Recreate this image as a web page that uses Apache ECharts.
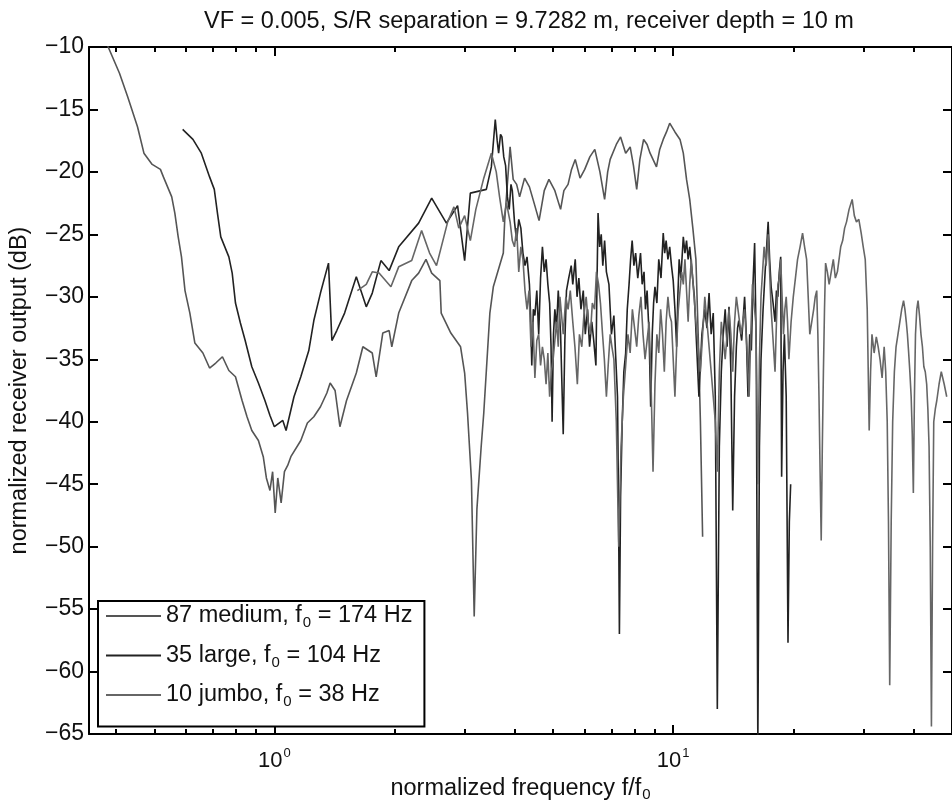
<!DOCTYPE html>
<html><head><meta charset="utf-8">
<script src="https://cdn.jsdelivr.net/npm/echarts@6/dist/echarts.min.js"></script>
<style>html,body{margin:0;padding:0;background:#fff}#c{width:952px;height:808px}</style>
</head><body><div id="c"></div><script>
const titleText = 'VF = 0.005, S/R separation = 9.7282 m, receiver depth = 10 m';
const xName = 'normalized frequency f/f';
const yName = 'normalized receiver output (dB)';
const xMajorTicks = [1, 10];
const xMinorTicks = [0.4,0.5,0.6,0.7,0.8,0.9,2,3,4,5,6,7,8,9,20,30,40];
const seriesNames = ['87 medium', '35 large', '10 jumbo'];
const f0Labels = ['174 Hz', '104 Hz', '38 Hz'];

const medium = [
[0.35,-8.0],[0.382,-9.9],[0.409,-12.1],[0.429,-14.0],[0.454,-16.4],[0.471,-18.5],[0.494,-19.4],[0.518,-19.8],[0.527,-20.4],[0.553,-22.0],[0.563,-23.3],[0.574,-25.2],[0.585,-26.8],[0.597,-29.5],[0.614,-31.3],[0.632,-33.7],[0.662,-34.5],[0.688,-35.7],[0.713,-35.3],[0.741,-34.8],[0.769,-35.9],[0.799,-36.4],[0.830,-38.3],[0.854,-39.6],[0.878,-40.7],[0.912,-41.5],[0.938,-42.8],[0.955,-44.5],[0.975,-45.5],[0.99,-44.0],[1.005,-47.3],[1.02,-44.5],[1.04,-46.5],[1.06,-44.0],[1.08,-43.5],[1.10,-42.8],[1.165,-41.5],[1.21,-40.1],[1.256,-39.6],[1.305,-38.8],[1.354,-37.7],[1.38,-36.9],[1.42,-37.5],[1.46,-40.4],[1.517,-38.3],[1.605,-36.1],[1.667,-34.0],[1.76,-34.5],[1.80,-36.4],[1.87,-32.9],[1.94,-32.7],[1.97,-34.0],[2.05,-31.3],[2.21,-28.7],[2.30,-28.1],[2.40,-27.0],[2.48,-28.1],[2.60,-28.7],[2.62,-31.3],[2.77,-32.9],[2.93,-34.0],[3.00,-36.1],[3.05,-39.3],[3.12,-44.7],[3.17,-55.6],[3.22,-47.0],[3.30,-42.0],[3.35,-39.3],[3.47,-31.3],[3.54,-29.2],[3.75,-26.5],[3.78,-23.9],[3.90,-18.0],[3.97,-20.6],[4.05,-21.0],[4.12,-22.0],[4.24,-20.5],[4.36,-21.2],[4.48,-22.5],[4.61,-23.9],[4.75,-21.5],[4.88,-20.6],[5.05,-21.5],[5.22,-23.0],[5.32,-21.5],[5.45,-21.0],[5.56,-19.8],[5.68,-19.0],[5.84,-20.5],[6.0,-19.8],[6.18,-18.8],[6.36,-18.2],[6.55,-20.0],[6.73,-22.2],[6.85,-20.0],[6.95,-19.0],[7.2,-17.8],[7.38,-17.2],[7.6,-18.5],[7.8,-18.0],[7.95,-19.5],[8.1,-21.4],[8.25,-19.0],[8.43,-17.4],[8.6,-17.8],[8.75,-18.5],[9.08,-19.6],[9.25,-18.2],[9.44,-17.4],[9.62,-16.8],[9.8,-16.1],[10.1,-16.8],[10.4,-17.4],[10.6,-18.5],[10.8,-20.6],[11.0,-22.2],[11.2,-24.5],[11.4,-27.0],[11.55,-33.0],[11.7,-40.0],[11.85,-49.2]
];
const large = [
[0.589,-16.6],[0.625,-17.4],[0.656,-18.5],[0.688,-20.4],[0.707,-21.4],[0.720,-23.3],[0.734,-25.2],[0.769,-26.8],[0.784,-28.1],[0.799,-30.5],[0.822,-32.1],[0.845,-33.5],[0.878,-35.6],[0.912,-36.9],[0.947,-38.3],[0.975,-39.5],[1.0,-40.4],[1.05,-39.9],[1.07,-40.7],[1.12,-38.0],[1.165,-36.4],[1.22,-34.3],[1.256,-31.9],[1.305,-29.7],[1.367,-27.3],[1.394,-33.5],[1.434,-32.7],[1.50,-31.3],[1.605,-28.4],[1.70,-30.8],[1.76,-29.7],[1.85,-27.1],[1.94,-27.9],[2.05,-26.0],[2.30,-24.1],[2.48,-22.1],[2.70,-24.1],[2.88,-22.7],[3.0,-27.1],[3.1,-21.7],[3.4,-21.4],[3.5,-19.6],
[3.58,-15.8],[3.62,-17.5],[3.65,-18.5],[3.69,-17.0],[3.72,-17.2],[3.76,-18.8],[3.8,-19.5],[3.84,-22.0],[3.88,-23.0],[3.92,-21.0],[3.95,-21.5],[4.0,-24.0],[4.05,-25.5],[4.1,-23.8],[4.15,-24.5],[4.2,-26.5],[4.25,-27.5],[4.3,-26.8],[4.36,-29.0],[4.39,-31.5],[4.42,-35.5],[4.46,-31.0],[4.5,-31.5],[4.55,-29.5],[4.6,-33.0],[4.65,-28.5],[4.7,-26.0],[4.75,-28.0],[4.8,-27.0],[4.85,-29.0],[4.9,-30.5],[4.94,-34.0],[4.97,-40.0],[5.01,-33.0],[5.05,-31.0],[5.1,-32.5],[5.15,-29.5],[5.22,-33.0],[5.3,-41.0],[5.35,-33.5],[5.4,-29.5],[5.47,-28.5],[5.55,-27.5],[5.6,-29.0],[5.68,-27.0],[5.74,-30.0],[5.8,-28.5],[5.87,-31.0],[5.95,-29.5],[6.02,-33.0],[6.1,-31.0],[6.17,-34.0],[6.25,-32.0],[6.32,-33.5],[6.4,-35.5],[6.44,-29.0],[6.48,-23.3],[6.54,-26.0],[6.6,-25.0],[6.66,-27.5],[6.73,-25.5],[6.8,-28.0],[6.9,-29.0],[7.0,-33.0],[7.1,-31.5],[7.18,-35.0],[7.25,-38.0],[7.29,-46.0],[7.33,-57.0],[7.38,-46.0],[7.45,-40.0],[7.52,-36.0],[7.6,-34.5],[7.67,-31.0],[7.75,-29.0],[7.82,-27.0],[7.89,-25.5],[7.97,-27.5],[8.05,-26.5],[8.15,-28.5],[8.28,-26.5],[8.36,-29.0],[8.45,-28.0],[8.52,-31.0],[8.6,-29.5],[8.7,-33.0],[8.78,-38.8],[8.86,-33.0],[8.93,-30.5],[9.0,-29.2],[9.1,-30.5],[9.2,-27.0],[9.32,-28.5],[9.44,-24.9],[9.52,-26.5],[9.6,-25.5],[9.7,-27.0],[9.8,-26.0],[9.9,-27.5],[10.0,-28.7],[10.1,-31.0],[10.2,-34.0],[10.27,-30.0],[10.35,-27.0],[10.45,-28.5],[10.6,-25.2],[10.7,-26.5],[10.8,-25.5],[10.9,-27.0],[11.0,-26.0],[11.15,-28.0],[11.3,-30.0],[11.45,-34.0],[11.6,-38.0],[11.8,-33.0],[12.0,-31.0],[12.15,-32.5],[12.3,-29.7],[12.45,-33.0],[12.6,-31.3],[12.75,-38.0],[12.9,-63.0],[13.05,-42.0],[13.2,-36.0],[13.35,-33.0],[13.5,-31.0],[13.65,-34.0],[13.8,-30.8],[13.95,-36.0],[14.1,-47.1],[14.25,-38.0],[14.4,-34.0],[14.5,-32.5],[14.6,-31.9],[14.85,-33.5],[15.1,-30.0],[15.25,-33.0],[15.4,-38.0],[15.55,-33.0],[15.7,-34.3],[15.85,-29.0],[16.0,-25.7],[16.15,-34.0],[16.3,-66.0],[16.45,-42.0],[16.6,-35.0],[16.8,-31.0],[17.0,-28.0],[17.15,-26.0],[17.3,-24.0],[17.45,-27.0],[17.6,-29.2],[17.8,-30.5],[18.0,-32.0],[18.15,-29.5],[18.3,-30.0],[18.45,-28.0],[18.6,-26.8],[18.7,-44.4],[18.85,-36.0],[19.0,-33.0],[19.2,-38.0],[19.4,-57.7],[19.55,-48.0],[19.7,-45.0]
];
const jumbo = [
[1.615,-29.5],[1.70,-29.0],[1.76,-28.0],[1.83,-28.1],[1.96,-29.2],[2.05,-27.6],[2.21,-27.1],[2.34,-24.7],[2.45,-26.5],[2.55,-27.5],[2.72,-24.0],[2.82,-22.8],[2.90,-24.5],[3.00,-23.5],[3.10,-25.5],[3.20,-23.0],[3.35,-20.5],[3.50,-18.5],
[3.6,-20.0],[3.67,-22.0],[3.75,-24.0],[3.82,-22.5],[3.9,-24.0],[3.95,-25.5],[4.0,-26.0],[4.05,-24.5],[4.1,-28.0],[4.15,-26.0],[4.2,-27.0],[4.25,-29.5],[4.3,-31.0],[4.35,-29.5],[4.4,-34.0],[4.45,-32.0],[4.5,-36.5],[4.55,-33.5],[4.6,-33.0],[4.65,-35.5],[4.7,-34.0],[4.75,-35.0],[4.8,-37.0],[4.85,-34.5],[4.9,-38.0],[4.95,-36.0],[5.0,-35.0],[5.05,-33.5],[5.1,-32.0],[5.15,-34.0],[5.2,-30.0],[5.25,-31.5],[5.3,-33.0],[5.38,-30.0],[5.45,-31.0],[5.52,-29.5],[5.6,-32.0],[5.67,-34.0],[5.75,-37.0],[5.82,-33.0],[5.9,-34.0],[5.97,-31.5],[6.05,-30.0],[6.12,-32.0],[6.2,-33.0],[6.27,-30.5],[6.35,-31.0],[6.42,-28.0],[6.5,-29.0],[6.57,-30.5],[6.65,-33.0],[6.72,-35.0],[6.8,-38.0],[6.87,-35.5],[6.95,-33.0],[7.02,-34.0],[7.1,-35.0],[7.2,-40.0],[7.3,-50.0],[7.4,-42.0],[7.5,-38.0],[7.6,-35.5],[7.7,-33.0],[7.8,-34.5],[7.9,-31.0],[8.0,-32.5],[8.1,-34.0],[8.2,-31.5],[8.3,-30.0],[8.4,-33.0],[8.5,-35.0],[8.6,-33.5],[8.7,-32.0],[8.8,-37.0],[8.9,-44.0],[9.0,-37.0],[9.1,-33.0],[9.2,-34.5],[9.3,-31.0],[9.4,-33.0],[9.5,-36.0],[9.6,-32.0],[9.7,-30.0],[9.8,-31.5],[9.9,-32.0],[10.0,-35.0],[10.1,-38.0],[10.2,-34.0],[10.3,-31.0],[10.4,-29.5],[10.5,-28.0],[10.6,-29.0],[10.7,-27.0],[10.8,-29.5],[10.9,-32.0],[11.0,-29.0],[11.1,-27.0],[11.25,-29.5],[11.4,-32.0],[11.55,-34.0],[11.7,-36.0],[11.85,-33.0],[12.0,-30.0],[12.15,-32.0],[12.3,-34.0],[12.45,-36.0],[12.6,-38.0],[12.75,-40.0],[12.9,-44.0],[13.05,-36.0],[13.2,-32.0],[13.35,-33.5],[13.5,-35.0],[13.65,-33.0],[13.8,-31.0],[13.95,-33.0],[14.1,-36.0],[14.25,-32.0],[14.4,-30.0],[14.6,-31.5],[14.8,-33.0],[14.95,-32.0],[15.1,-31.0],[15.3,-34.0],[15.5,-38.0],[15.65,-33.0],[15.8,-29.0],[15.95,-30.5],[16.1,-32.0],[16.2,-37.0],[16.3,-45.0],[16.45,-35.0],[16.6,-30.0],[16.75,-28.0],[16.9,-26.0],[17.1,-27.5],[17.3,-25.0],[17.45,-28.0],[17.6,-31.0],[17.8,-33.5],[18.0,-36.0],[18.15,-32.0],[18.3,-29.0],[18.45,-28.5],[18.6,-27.0],[18.75,-30.0],[18.9,-33.0],[19.05,-31.0],[19.2,-30.0],[19.35,-32.0],[19.5,-35.0],[19.75,-32.0],[20.0,-30.0],[20.25,-28.5],[20.5,-27.0],[20.8,-26.0],[21.1,-24.9],[21.35,-26.0],[21.6,-27.0],[21.8,-30.0],[22.0,-33.0],[22.25,-32.0],[22.5,-31.0],[22.7,-30.0],[22.9,-29.5],[23.05,-33.0],[23.2,-38.0],[23.35,-44.0],[23.5,-49.5],[23.65,-42.0],[23.8,-36.0],[23.95,-31.0],[24.1,-27.3],[24.35,-28.0],[24.6,-29.0],[24.9,-28.0],[25.2,-27.0],[25.5,-28.5],[25.8,-28.0],[26.05,-27.0],[26.3,-26.0],[26.6,-25.5],[26.9,-24.5],[27.2,-24.0],[27.6,-23.0],[28.1,-22.2],[28.45,-23.5],[28.8,-24.0],[29.2,-23.8],[29.6,-24.9],[29.95,-26.0],[30.3,-27.0],[30.65,-31.0],[31.0,-40.7],[31.25,-36.0],[31.5,-33.0],[31.9,-34.5],[32.3,-33.2],[32.65,-34.0],[33.0,-35.0],[33.4,-36.5],[33.8,-34.0],[34.1,-36.0],[34.4,-40.0],[34.65,-48.0],[34.9,-61.1],[35.2,-48.0],[35.5,-40.0],[35.85,-36.0],[36.2,-34.0],[36.6,-33.0],[37.0,-32.0],[37.4,-31.0],[37.8,-30.3],[38.1,-31.0],[38.4,-32.0],[38.65,-33.0],[38.9,-34.3],[39.2,-36.0],[39.5,-38.0],[39.75,-41.0],[40.0,-45.7],[40.25,-38.0],[40.5,-33.0],[40.8,-31.0],[41.1,-30.3],[41.45,-31.5],[41.8,-33.0],[42.15,-34.0],[42.5,-35.6],[42.85,-36.0],[43.2,-37.0],[43.5,-39.0],[43.8,-42.0],[44.1,-50.0],[44.4,-64.4],[44.7,-50.0],[45.0,-40.0],[45.4,-39.0],[45.8,-38.3],[46.4,-37.0],[47.0,-36.0],[47.8,-37.0],[48.5,-38.0]
];

const FONT = '"Liberation Sans", Arial, Helvetica, sans-serif';
const INK = '#111';
const FS = 23.5;
const xMin = 0.343, xMax = 50;
const lineColors = ['#555', '#222', '#666'];

function logAxis(pos, ticks, len, showLine, labels) {
  return {
    type: 'log', logBase: 10, min: xMin, max: xMax, position: pos,
    axisLine: {show: showLine, onZero: false, lineStyle: {color: '#000', width: 2}},
    axisTick: {show: true, inside: true, length: len, customValues: ticks, lineStyle: {color: '#000', width: 2}},
    axisLabel: labels ? {
      show: true, customValues: ticks, margin: 13, color: INK, fontFamily: FONT, fontSize: 22,
      formatter: v => '{b|10}{s|' + Math.round(Math.log10(v)) + '}',
      rich: {b: {fontSize: 22, fontFamily: FONT, color: INK}, s: {fontSize: 13, fontFamily: FONT, color: INK, padding: [0, 0, 14, 1]}}
    } : {show: false},
    splitLine: {show: false}, minorTick: {show: false}
  };
}

const chart = echarts.init(document.getElementById('c'), null, {renderer: 'canvas'});
const xAxes = [logAxis('bottom', xMajorTicks, 9, true, true), logAxis('bottom', xMinorTicks, 5, false, false),
               logAxis('top', xMajorTicks, 9, true, false), logAxis('top', xMinorTicks, 5, false, false)];
xAxes[0].name = '{t|' + xName + '}{s|0}';
xAxes[0].nameLocation = 'middle';
xAxes[0].nameGap = 36;
xAxes[0].nameTextStyle = {fontFamily: FONT, fontSize: FS, color: INK,
  rich: {t: {fontFamily: FONT, fontSize: FS, color: INK}, s: {fontFamily: FONT, fontSize: 15, color: INK, padding: [13, 0, 0, 1]}}};

chart.setOption({
  animation: false,
  backgroundColor: '#fff',
  title: {text: titleText, left: 524, top: 5, textAlign: 'center',
    textStyle: {fontFamily: FONT, fontSize: FS, fontWeight: 'normal', color: INK}},
  grid: {left: 87, top: 47, width: 874, height: 687, containLabel: false},
  xAxis: xAxes,
  yAxis: [
    {type: 'value', min: -65, max: -10, interval: 5, position: 'left',
     axisLine: {show: true, lineStyle: {color: '#000', width: 2}},
     axisTick: {show: true, inside: true, length: 9, lineStyle: {color: '#000', width: 2}},
     axisLabel: {color: INK, fontFamily: FONT, fontSize: 23, margin: 5, formatter: v => v < 0 ? '\u2212' + Math.abs(v) : String(v)},
     splitLine: {show: false},
     name: yName, nameLocation: 'middle', nameGap: 57,
     nameTextStyle: {fontFamily: FONT, fontSize: FS, color: INK}},
    {type: 'value', min: -65, max: -10, interval: 5, position: 'right',
     axisLine: {show: true, lineStyle: {color: '#000', width: 2}},
     axisTick: {show: true, inside: true, length: 9, lineStyle: {color: '#000', width: 2}},
     axisLabel: {show: false}, splitLine: {show: false}}
  ],
  legend: {
    data: seriesNames, orient: 'vertical', left: 98, top: 601,
    icon: 'rect', itemWidth: 55, itemHeight: 2, itemGap: 13,
    padding: [3, 12, 17, 8],
    borderColor: '#000', borderWidth: 2, backgroundColor: '#fff',
    textStyle: {fontFamily: FONT, fontSize: FS, color: INK,
      rich: {s: {fontFamily: FONT, fontSize: 15, color: INK, padding: [14, 0, 0, 1]}}},
    formatter: name => {
      const i = seriesNames.indexOf(name);
      return name + ', f{s|0} = ' + f0Labels[i];
    }
  },
  series: [medium, large, jumbo].map((d, i) => ({
    name: seriesNames[i], type: 'line', data: d, xAxisIndex: 0, yAxisIndex: 0,
    symbol: 'none', showSymbol: false, clip: true,
    lineStyle: {color: lineColors[i], width: 1.6},
    itemStyle: {color: lineColors[i]}, z: 2 + i
  }))
});
</script></body></html>
